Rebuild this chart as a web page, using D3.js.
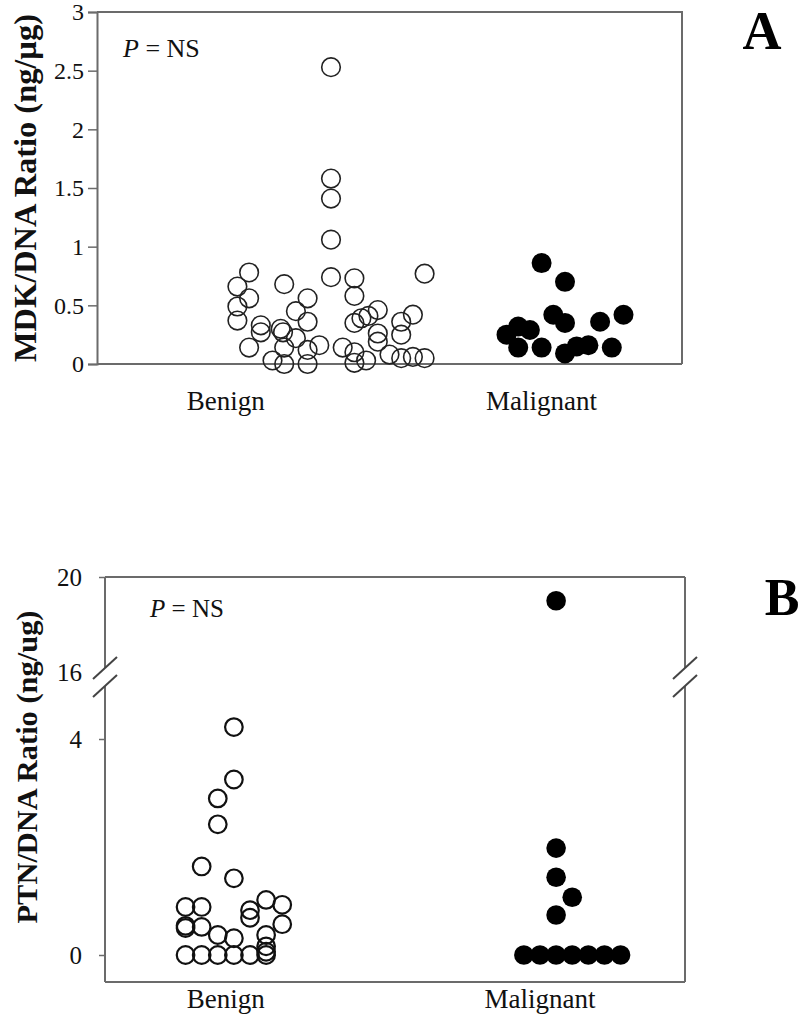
<!DOCTYPE html>
<html><head><meta charset="utf-8">
<script src="https://cdn.jsdelivr.net/npm/d3@7"></script>
<style>body{margin:0;background:#fff}svg{display:block}</style>
</head><body>
<script>
// ---------- DATA ----------
const categories = ["Benign", "Malignant"];
// Panel A : MDK/DNA ratio (ng/µg); x = jitter column on the plot's numeric x axis
const mdkBenignX = [13,12,13,12,12,13,14,14,16,15.7,15.9,17,18,18,17,16,15,16,18,18,19,20,20,20,20,20,21,22,22,22,22,22,22.6,23.2,23,24,24,24,25,26,26,26,27,27,28,28];
const mdkBenignY = [0.78,0.66,0.56,0.49,0.37,0.14,0.33,0.27,0.68,0.30,0.27,0.45,0.56,0.36,0.22,0.14,0.03,0.0,0.12,0.0,0.16,0.74,1.06,1.41,1.58,2.53,0.14,0.73,0.58,0.35,0.10,0.01,0.39,0.41,0.03,0.46,0.26,0.19,0.08,0.36,0.25,0.05,0.42,0.06,0.77,0.05];
const mdkMalignantX = [35,36,37,36,38,38,39,40,40,40,41,42,43,44,45];
const mdkMalignantY = [0.25,0.32,0.29,0.14,0.14,0.86,0.42,0.35,0.70,0.09,0.15,0.16,0.36,0.14,0.42];
const mdkTicks = [0,0.5,1,1.5,2,2.5,3];
const mdkTickLabels = ["0","0.5","1","1.5","2","2.5","3"];
const mdkCatPos = [11, 38];

// Panel B : PTN/DNA ratio (ng/ug), broken axis
const ptnBenignX = [8,8,8,8,8,7,7,7,7,6,6,6,6,5,5,5,5,9,9,9,10,10,10,10,10,11,11];
const ptnBenignY = [4.22,3.25,1.42,0.31,0,2.9,2.42,0.37,0,1.64,0.89,0.52,0,0.89,0.54,0.50,0,0.83,0.69,0,1.02,0.37,0.16,0.06,0,0.93,0.57];
const ptnMalignantX = [28,28,28,28,29,26,27,28,29,30,31,32];
const ptnMalignantY = [19.0,1.98,1.44,0.74,1.07,0,0,0,0,0,0,0];
const ptnTicksLow = [0,4];
const ptnTicksHigh = [16,20];
const ptnCatPos = [7.5, 27];

// ---------- DRAW ----------
const W = 800, H = 1019;
const FONT = "'Liberation Serif','Times New Roman',serif";
const AXC = "#6b6b6b";
const svg = d3.select("body").append("svg").attr("width", W).attr("height", H)
  .style("font-family", FONT);
svg.append("rect").attr("width", W).attr("height", H).attr("fill", "#fff");

// ===== Panel A =====
const xA = d3.scaleLinear().domain([0, 50]).range([97, 682]);
const yA = d3.scaleLinear().domain([0, 3]).range([364, 12]);
const gA = svg.append("g");

gA.append("path").attr("d", `M${xA(0)},${yA(3)}H${xA(50)}V${yA(0)}`)
  .attr("fill", "none").attr("stroke", AXC).attr("stroke-width", 2);
gA.append("line").attr("x1", xA(0)).attr("x2", xA(50)).attr("y1", yA(0)).attr("y2", yA(0))
  .attr("stroke", AXC).attr("stroke-width", 2);
const axA = gA.append("g").attr("transform", `translate(${xA(0)},0)`)
  .call(d3.axisLeft(yA).tickValues(mdkTicks).tickSize(9).tickPadding(4)
    .tickFormat((d, i) => mdkTickLabels[i]));
axA.select(".domain").attr("stroke", AXC).attr("stroke-width", 2);
axA.selectAll(".tick line").attr("stroke", AXC).attr("stroke-width", 1.5);
axA.selectAll(".tick text").attr("font-family", FONT).attr("font-size", 24).attr("fill", "#111");

gA.selectAll("circle.ben").data(mdkBenignX).join("circle")
  .attr("cx", d => xA(d)).attr("cy", (d, i) => yA(mdkBenignY[i])).attr("r", 9.3)
  .attr("fill", "none").attr("stroke", "#222").attr("stroke-width", 1.6);
gA.selectAll("circle.mal").data(mdkMalignantX).join("circle")
  .attr("cx", d => xA(d)).attr("cy", (d, i) => yA(mdkMalignantY[i])).attr("r", 10)
  .attr("fill", "#000");

gA.selectAll("text.cat").data(categories).join("text")
  .attr("x", (d, i) => xA(mdkCatPos[i])).attr("y", 410)
  .attr("text-anchor", "middle").attr("font-size", 27).attr("fill", "#111").text(d => d);

const pA = gA.append("text").attr("x", 123).attr("y", 57).attr("font-size", 26).attr("fill", "#111");
pA.append("tspan").attr("font-style", "italic").text("P");
pA.append("tspan").text(" = NS");

gA.append("text").attr("transform", `translate(36,188) rotate(-90)`)
  .attr("text-anchor", "middle").attr("font-weight", "bold").attr("font-size", 32)
  .attr("textLength", 348).attr("lengthAdjust", "spacingAndGlyphs")
  .attr("fill", "#111").text("MDK/DNA Ratio (ng/µg)");
gA.append("text").attr("x", 762).attr("y", 49).attr("text-anchor", "middle")
  .attr("font-weight", "bold").attr("font-size", 54).attr("fill", "#000").text("A");

// ===== Panel B =====
const xB = d3.scaleLinear().domain([0, 36]).range([105, 685]);
const yBLow = d3.scaleLinear().domain([-0.5, 5]).range([982, 685]);
const yBHigh = d3.scaleLinear().domain([16, 20]).range([672, 577]);
const yB = v => v >= 10 ? yBHigh(v) : yBLow(v);
const gB = svg.append("g");
const gapTop = 668, gapBot = 686;

gB.append("line").attr("x1", xB(0)).attr("x2", xB(36)).attr("y1", yBHigh(20)).attr("y2", yBHigh(20))
  .attr("stroke", AXC).attr("stroke-width", 2);
gB.append("line").attr("x1", xB(0)).attr("x2", xB(36)).attr("y1", yBLow(-0.5)).attr("y2", yBLow(-0.5))
  .attr("stroke", AXC).attr("stroke-width", 2);
[xB(0), xB(36)].forEach(x => {
  gB.append("line").attr("x1", x).attr("x2", x).attr("y1", yBHigh(20)).attr("y2", gapTop)
    .attr("stroke", AXC).attr("stroke-width", 2);
  gB.append("line").attr("x1", x).attr("x2", x).attr("y1", gapBot).attr("y2", yBLow(-0.5))
    .attr("stroke", AXC).attr("stroke-width", 2);
  [gapTop, gapBot].forEach(y => {
    gB.append("line").attr("x1", x - 12).attr("y1", y + 11).attr("x2", x + 12).attr("y2", y - 11)
      .attr("stroke", "#444").attr("stroke-width", 2);
  });
});
const axBL = gB.append("g").attr("transform", `translate(${xB(0)},0)`)
  .call(d3.axisLeft(yBLow).tickValues(ptnTicksLow).tickSize(6).tickPadding(17).tickFormat(d3.format("d")));
const axBH = gB.append("g").attr("transform", `translate(${xB(0)},0)`)
  .call(d3.axisLeft(yBHigh).tickValues(ptnTicksHigh).tickSize(6).tickPadding(17).tickFormat(d3.format("d")));
[axBL, axBH].forEach(a => {
  a.select(".domain").remove();
  a.selectAll(".tick line").attr("stroke", AXC).attr("stroke-width", 1.5);
  a.selectAll(".tick text").attr("font-family", FONT).attr("font-size", 25).attr("fill", "#111");
});
axBH.selectAll(".tick line").filter(d => d === 16).remove();

gB.selectAll("circle.ben").data(ptnBenignX).join("circle")
  .attr("cx", d => xB(d)).attr("cy", (d, i) => yB(ptnBenignY[i])).attr("r", 8.8)
  .attr("fill", "none").attr("stroke", "#111").attr("stroke-width", 2.2);
gB.selectAll("circle.mal").data(ptnMalignantX).join("circle")
  .attr("cx", d => xB(d)).attr("cy", (d, i) => yB(ptnMalignantY[i])).attr("r", 9.8)
  .attr("fill", "#000");

gB.selectAll("text.cat").data(categories).join("text")
  .attr("x", (d, i) => xB(ptnCatPos[i])).attr("y", 1008)
  .attr("text-anchor", "middle").attr("font-size", 27).attr("fill", "#111").text(d => d);

const pB = gB.append("text").attr("x", 150).attr("y", 617).attr("font-size", 25).attr("fill", "#111");
pB.append("tspan").attr("font-style", "italic").text("P");
pB.append("tspan").text(" = NS");

gB.append("text").attr("transform", `translate(37,767) rotate(-90)`)
  .attr("text-anchor", "middle").attr("font-weight", "bold").attr("font-size", 29)
  .attr("textLength", 313).attr("lengthAdjust", "spacingAndGlyphs")
  .attr("fill", "#111").text("PTN/DNA Ratio (ng/ug)");
gB.append("text").attr("x", 782).attr("y", 615).attr("text-anchor", "middle")
  .attr("font-weight", "bold").attr("font-size", 52).attr("fill", "#000").text("B");
</script>
</body></html>
